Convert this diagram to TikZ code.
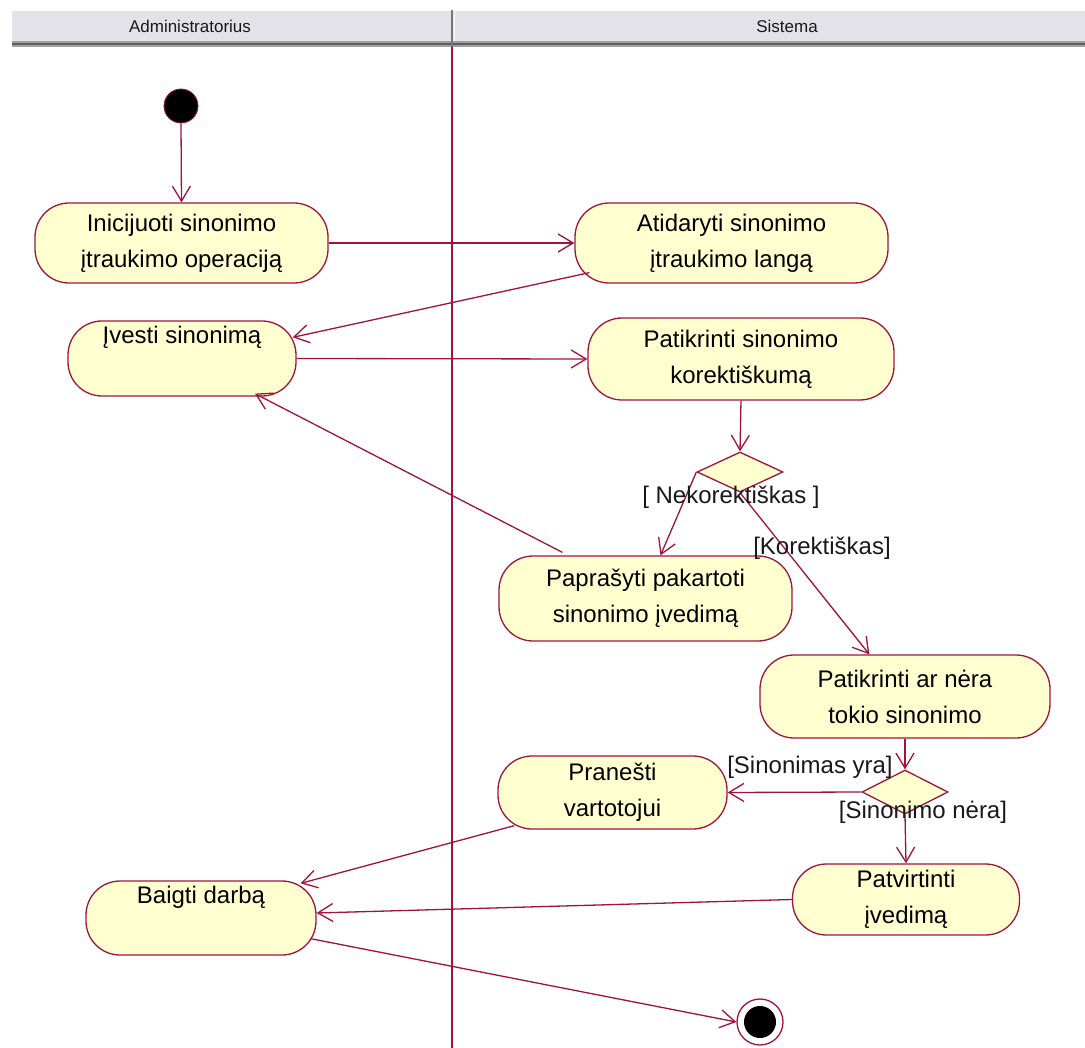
\documentclass[tikz,border=0pt]{standalone}
\usepackage{fontspec}
\setmainfont{Liberation Sans}
\usetikzlibrary{arrows.meta,shapes.geometric}
\definecolor{umlline}{RGB}{160,20,60}
\definecolor{umlfill}{RGB}{255,255,208}
\definecolor{hdrfill}{RGB}{226,226,232}
\definecolor{hdrdark}{RGB}{120,120,120}
\begin{document}
\begin{tikzpicture}[x=1pt,y=-1pt,
  act/.style={draw=umlline, fill=umlfill, line width=1.3pt, rounded corners=34pt,
    align=center, inner sep=0pt, font=\fontsize{24}{36}\selectfont, text=black},
  dec/.style={diamond, draw=umlline, fill=umlfill, line width=1.3pt, inner sep=0pt,
    minimum width=86pt},
  flow/.style={draw=umlline, line width=1.3pt,
    -{Straight Barb[length=15pt,width=18pt,line width=1.3pt]}},
  guard/.style={font=\fontsize{24}{28}\selectfont, text=black!90, inner sep=0pt},
  lanetitle/.style={font=\fontsize{17}{20}\selectfont, text=black!90}
]
\useasboundingbox (0,0) rectangle (1085,1048);
\fill[white] (0,0) rectangle (1085,1048);

% swimlane header
\fill[hdrfill] (12,10) rectangle (1085,41);
\draw[white, line width=1pt] (12,10.5) -- (1085,10.5);
\fill[hdrdark!70] (12,41) rectangle (1085,47);
\draw[hdrdark!120, line width=1.2pt] (12,44) -- (1085,44);
\draw[hdrdark, line width=2pt] (452,10) -- (452,47);
\draw[white, line width=1pt] (454.5,10) -- (454.5,41);
\node[lanetitle] (laneA) at (190,26) {Administratorius};
\node[lanetitle] (laneB) at (787,26) {Sistema};

% swimlane separator
\draw[umlline, line width=1.4pt] (452,47) -- (452,1048);

% initial and final states
\node[circle, fill=black, draw=umlline, line width=0.8pt, minimum size=34pt, inner sep=0pt] (ini) at (181,106) {};
\node[circle, fill=white, draw=umlline, line width=1.3pt, minimum size=46pt, inner sep=0pt] (fin) at (760,1022) {};
\fill[black] (fin.center) circle (16);

% activities
\node[act, minimum width=293pt, minimum height=80pt] (n1) at (181.5,243) {Inicijuoti sinonimo\\įtraukimo operaciją};
\node[act, minimum width=313pt, minimum height=80pt] (n2) at (731.5,243) {Atidaryti sinonimo\\įtraukimo langą};
\node[act, minimum width=228pt, minimum height=75pt] (n3) at (182,358.5) {Įvesti sinonimą\\\strut};
\node[act, minimum width=306pt, minimum height=82pt] (n4) at (741,359) {Patikrinti sinonimo\\korektiškumą};
\node[dec, minimum height=40pt] (d1) at (740,472) {};
\node[act, minimum width=293pt, minimum height=85pt] (n5) at (645.5,598.5) {Paprašyti pakartoti\\sinonimo įvedimą};
\node[act, minimum width=290pt, minimum height=83pt] (n6) at (905,696.5) {Patikrinti ar nėra\\tokio sinonimo};
\node[dec, minimum height=44pt] (d2) at (905,792) {};
\node[act, minimum width=229pt, minimum height=73pt] (n7) at (612.5,792.5) {Pranešti\\vartotojui};
\node[act, minimum width=227pt, minimum height=71pt] (n8) at (906,899.5) {Patvirtinti\\įvedimą};
\node[act, minimum width=230pt, minimum height=74pt] (n9) at (201,918) {Baigti darbą\\\strut};

% transitions
\draw[flow] (ini.south) -- (n1.north);
\draw[flow] (n1.east) -- (n2.west);
\draw[flow] ([shift={(15,-11)}]n2.south west) -- ([shift={(-4,17)}]n3.north east);
\draw[flow] (n3.east) -- (n4.west);
\draw[flow] (n4.south) -- (d1.north);
\draw[flow] (d1.west) -- ([xshift=15pt]n5.north);
\draw[flow] (d1.south) -- ([xshift=110pt]n6.north west);
\draw[flow] ([shift={(64,-3)}]n5.north west) -- ([shift={(73,-3)}]n3.south);
\draw[flow] (n6.south) -- (d2.north);
\draw[flow] (d2.west) -- (n7.east);
\draw[flow] (d2.south) -- (n8.north);
\draw[flow] ([shift={(17,-4)}]n7.south west) -- ([shift={(-16,3)}]n9.north east);
\draw[flow] (n8.west) -- ([yshift=5pt]n9.east);
\draw[flow] ([shift={(-6,-17)}]n9.south east) -- (fin.west);

% guards
\node[guard] (g1) at (731,497) {[ Nekorektiškas ]};
\node[guard] (g2) at (822,548) {[Korektiškas]};
\node[guard] (g3) at (810,767) {[Sinonimas yra]};
\node[guard] (g4) at (923,812) {[Sinonimo nėra]};
\end{tikzpicture}
\end{document}
